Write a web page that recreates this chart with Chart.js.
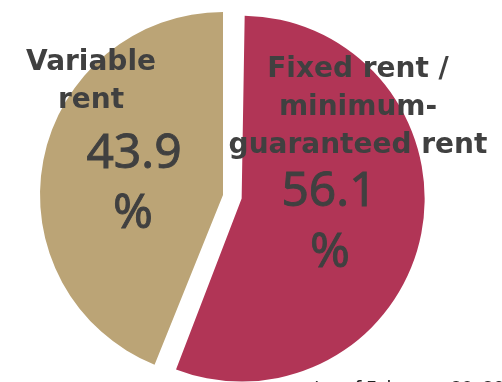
<!DOCTYPE html>
<html>
<head>
<meta charset="utf-8">
<script src="https://cdn.jsdelivr.net/npm/chart.js@4.4.1/dist/chart.umd.min.js"></script>
<style>
  html, body { margin: 0; padding: 0; background: #fff; }
  #wrap { width: 502px; height: 382px; }
</style>
</head>
<body>
<div id="wrap"><canvas id="rentChart" width="502" height="382"></canvas></div>
<script>
// Rent type breakdown (%)
const categories = ["Fixed rent / minimum-guaranteed rent", "Variable rent"];
const shares = [56.1, 43.9];
const sliceColors = ["#B13556", "#BBA476"];
const explode = [19, 0]; // px the slice is pulled out
const footnote = "(as of February 28, 2025)";

// text lines drawn inside each slice, offsets from the pie center
const sliceLabels = [
    { title: ["Fixed rent /", "minimum-", "guaranteed rent"], tx: 135, ty: [-118, -80, -42], nx: 106, ny: 11, px: 107, py: 72 },
    { title: ["Variable", "rent"], tx: -132, ty: [-125, -87], nx: -89, ny: -27, px: -90, py: 33 }
];

// Chart.js grows an offset arc by the offset too; keep every slice the same size
const keepRadius = {
    id: "keepRadius",
    beforeDatasetsDraw(chart) {
        const meta = chart.getDatasetMeta(0);
        const r = meta.controller.outerRadius;
        meta.data.forEach((arc, i) => { arc.outerRadius = r - explode[i]; });
    }
};

const labelPlugin = {
    id: "sliceLabels",
    afterDatasetsDraw(chart) {
        const ctx = chart.ctx;
        const arcs = chart.getDatasetMeta(0).data;
        ctx.save();
        ctx.fillStyle = "#404040";
        ctx.strokeStyle = "#404040";
        ctx.lineWidth = 0.9;
        ctx.textAlign = "center";
        ctx.textBaseline = "alphabetic";
        arcs.forEach((arc, i) => {
            const l = sliceLabels[i];
            ctx.font = "bold 28px 'DejaVu Sans'";
            l.title.forEach((line, k) => ctx.fillText(line, arc.x + l.tx, arc.y + l.ty[k]));
            ctx.font = "48px 'Noto Sans'";
            const num = shares[i].toFixed(1);
            ctx.fillText(num, arc.x + l.nx, arc.y + l.ny);
            ctx.strokeText(num, arc.x + l.nx, arc.y + l.ny);
            ctx.fillText("%", arc.x + l.px, arc.y + l.py);
            ctx.strokeText("%", arc.x + l.px, arc.y + l.py);
        });
        // footnote, mostly below the bottom edge
        ctx.fillStyle = "#222";
        ctx.textAlign = "left";
        ctx.font = "19px 'Noto Sans'";
        const fx = 366 - ctx.measureText("(as of ").width;
        ctx.fillText(footnote, fx, 395);
        ctx.restore();
    }
};

new Chart(document.getElementById("rentChart").getContext("2d"), {
    type: "pie",
    data: {
        labels: categories,
        datasets: [{
            data: shares,
            backgroundColor: sliceColors,
            borderWidth: 0,
            offset: explode.map(v => v * 4),
            clip: false
        }]
    },
    options: {
        responsive: false,
        animation: false,
        radius: 183,
        layout: { padding: { left: 0, right: 56, top: 8, bottom: 0 } },
        plugins: {
            legend: { display: false },
            tooltip: { enabled: false }
        }
    },
    plugins: [keepRadius, labelPlugin]
});
</script>
</body>
</html>
